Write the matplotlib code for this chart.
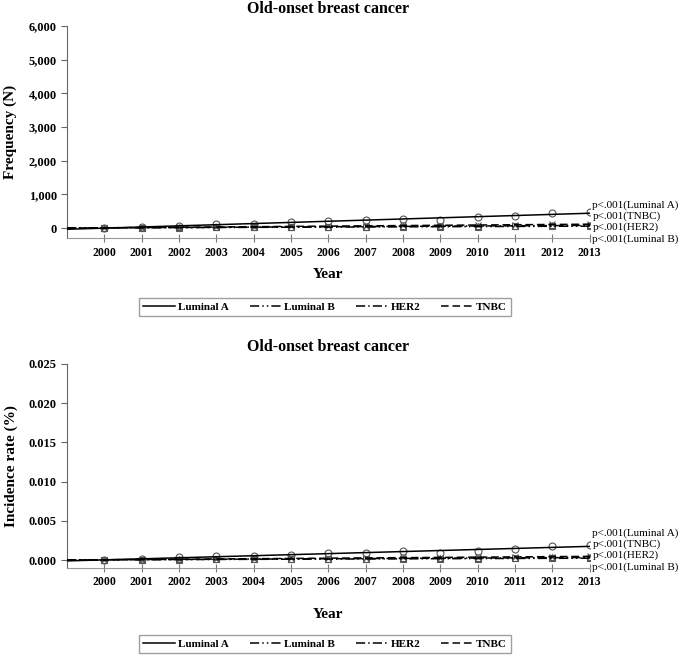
import numpy as np
import matplotlib
matplotlib.use('Agg')
import matplotlib.pyplot as plt
from matplotlib.lines import Line2D

plt.rcParams['font.family'] = ['Liberation Serif', 'DejaVu Serif']

years = np.arange(2000, 2014)
subtypes = ['Luminal A', 'Luminal B', 'HER2', 'TNBC']

freq_lum_a = [15, 40, 75, 110, 120, 170, 210, 230, 270, 230, 320, 350, 460, 480]
freq_lum_b = [5, 10, 15, 20, 20, 25, 30, 35, 40, 35, 45, 50, 55, 60]
freq_her2 = [5, 10, 20, 25, 30, 35, 40, 45, 55, 50, 60, 70, 80, 80]
freq_tnbc = [10, 15, 25, 35, 40, 50, 60, 70, 80, 75, 90, 100, 110, 115]

inc_lum_a = [0.00002, 0.0001, 0.0004, 0.0005, 0.0005, 0.0007, 0.0009,
             0.0009, 0.0011, 0.0009, 0.0012, 0.0014, 0.0018, 0.0019]
inc_lum_b = [0.00002, 0.00004, 0.00006, 0.00008, 0.00008, 0.0001, 0.00012,
             0.00014, 0.00016, 0.00014, 0.00018, 0.0002, 0.00022, 0.00024]
inc_her2 = [0.00002, 0.00004, 0.00008, 0.0001, 0.00012, 0.00014, 0.00016,
            0.00018, 0.00022, 0.0002, 0.00024, 0.00028, 0.00032, 0.00032]
inc_tnbc = [0.00004, 0.00006, 0.0001, 0.00014, 0.00016, 0.0002, 0.00024,
            0.00028, 0.00032, 0.0003, 0.00036, 0.0004, 0.00044, 0.00046]

p_labels = ['p<.001(Luminal A)', 'p<.001(TNBC)', 'p<.001(HER2)', 'p<.001(Luminal B)']

styles = {
    'Luminal A': dict(ls='-', marker='o'),
    'Luminal B': dict(ls=(0, (6, 2, 1, 2, 1, 2)), marker='s'),
    'HER2': dict(ls=(0, (6, 2, 1, 2)), marker='^'),
    'TNBC': dict(ls=(0, (5, 2.5)), marker='x'),
}


def draw_panel(ax, series, ylim, yticks, yfmt, ylabel, label_y, xlabelpad):
    xfit = np.array([1999, 2013])
    for name, vals in zip(subtypes, series):
        st = styles[name]
        ax.plot(years, vals, ls='none', marker=st['marker'], ms=5, mfc='none',
                mec='#555555', mew=0.8, zorder=3)
        coef = np.polyfit(years, vals, 1)
        ax.plot(xfit, np.polyval(coef, xfit), color='black', ls=st['ls'],
                lw=1.1, zorder=4)
    ax.set_xlim(1999, 2013)
    ax.set_ylim(*ylim)
    ax.set_xticks(years)
    ax.set_yticks(yticks)
    ax.set_yticklabels([yfmt(v) for v in yticks], fontweight='bold', fontsize=9)
    ax.set_xticklabels([str(y) for y in years], fontweight='bold', fontsize=8.5)
    for s in ['top', 'right']:
        ax.spines[s].set_visible(False)
    ax.spines['left'].set_color('#666666')
    ax.spines['bottom'].set_color('#999999')
    ax.tick_params(axis='y', colors='#666666', labelcolor='black', length=4)
    ax.tick_params(axis='x', colors='#777777', labelcolor='black', length=6,
                   direction='inout', pad=3)
    ax.set_title('Old-onset breast cancer', fontweight='bold', fontsize=11.5, pad=9)
    ax.set_ylabel(ylabel, fontweight='bold', fontsize=11, labelpad=8)
    ax.set_xlabel('Year', fontweight='bold', fontsize=11, labelpad=xlabelpad)
    trans = ax.get_yaxis_transform()
    for lab, yy in zip(p_labels, label_y):
        ax.text(1.005, yy, lab, transform=trans, fontsize=8, va='center',
                ha='left', clip_on=False)


def add_legend(fig, y):
    handles = [Line2D([], [], color='black', lw=1.1, ls=styles[n]['ls']) for n in subtypes]
    leg = fig.legend(handles, subtypes, loc='center', bbox_to_anchor=(0.4745, y),
                     ncol=4, frameon=True, fancybox=False, edgecolor='#888888',
                     prop={'weight': 'bold', 'size': 8}, handlelength=2.8,
                     columnspacing=1.9, borderpad=0.4, handletextpad=0.3)
    leg.get_frame().set_linewidth(1.0)


fig = plt.figure(figsize=(6.85, 6.58), dpi=100)
ax1 = fig.add_axes([0.098, 0.638, 0.763, 0.3225])
ax2 = fig.add_axes([0.098, 0.137, 0.763, 0.310])

draw_panel(ax1, [freq_lum_a, freq_lum_b, freq_her2, freq_tnbc], (-300, 6000),
           [0, 1000, 2000, 3000, 4000, 5000, 6000], lambda v: f'{v:,}',
           'Frequency (N)', [676, 353, 29, -324], 7)
draw_panel(ax2, [inc_lum_a, inc_lum_b, inc_her2, inc_tnbc], (-0.001, 0.025),
           [0, 0.005, 0.010, 0.015, 0.020, 0.025], lambda v: f'{v:.3f}',
           'Incidence rate (%)', [0.00344, 0.00204, 0.00064, -0.00089], 14)

add_legend(fig, 1 - 307 / 658)
add_legend(fig, 1 - 644 / 658)

fig.savefig('out.png', dpi=100)
